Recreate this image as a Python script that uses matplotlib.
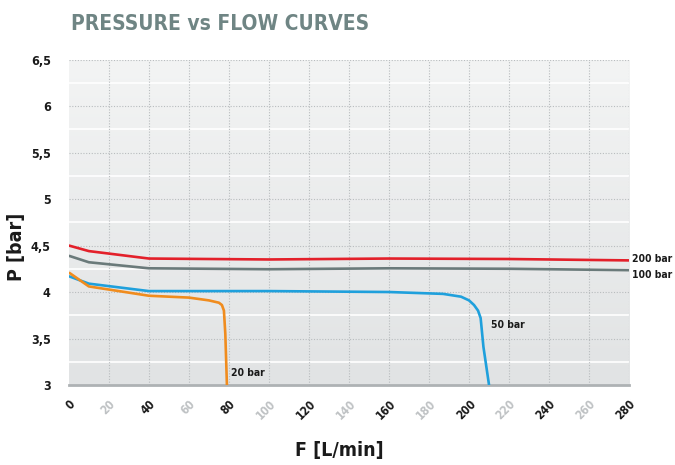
import numpy as np
import matplotlib
matplotlib.use("Agg")
import matplotlib.pyplot as plt
from matplotlib.colors import LinearSegmentedColormap

# Data
x_200 = [0, 10, 40, 100, 160, 220, 280]
p_200 = [4.50, 4.44, 4.36, 4.35, 4.36, 4.355, 4.34]
x_100 = [0, 10, 40, 100, 160, 220, 280]
p_100 = [4.39, 4.32, 4.255, 4.245, 4.255, 4.25, 4.235]
x_50 = [0, 10, 40, 100, 160, 187, 196, 200, 202.5, 204.5, 205.8, 207.2, 210]
p_50 = [4.17, 4.09, 4.01, 4.01, 4.0, 3.98, 3.95, 3.91, 3.86, 3.80, 3.72, 3.41, 3.0]
x_20 = [0, 10, 40, 60, 70, 75, 76.5, 77.5, 78.2, 79]
p_20 = [4.21, 4.06, 3.96, 3.94, 3.91, 3.885, 3.86, 3.80, 3.55, 3.0]
x_ticks = list(range(0, 281, 20))
y_ticks = [3, 3.5, 4, 4.5, 5, 5.5, 6, 6.5]
y_tick_labels = ['3', '3,5', '4', '4,5', '5', '5,5', '6', '6,5']

FONT = dict(family='DejaVu Sans', fontstretch='condensed', fontweight='bold')

fig = plt.figure(figsize=(6.75, 4.65), dpi=100)
ax = fig.add_axes([0.102, 0.172, 0.83, 0.700])
ax.set_xlim(0, 280)
ax.set_ylim(3, 6.5)

# gradient background (darker at bottom)
grad = np.linspace(0, 1, 256).reshape(-1, 1)
cmap = LinearSegmentedColormap.from_list('bg', ['#e1e3e4', '#f3f4f4'])
ax.imshow(grad, extent=[0, 280, 3, 6.5], origin='lower', aspect='auto', cmap=cmap, zorder=0)

for y in np.arange(3.25, 6.5, 0.5):
    ax.axhline(y, color='white', lw=1.2, zorder=1)
for y in y_ticks[1:]:
    ax.axhline(y, color='#b8bcbe', lw=0.8, ls=(0, (1, 1.5)), zorder=1)
for x in x_ticks[1:]:
    ax.axvline(x, color='#b8bcbe', lw=0.8, ls=(0, (1, 1.5)), zorder=1)

for s in ['top', 'right', 'left']:
    ax.spines[s].set_visible(False)
ax.spines['bottom'].set_color('#aeb2b4')
ax.spines['bottom'].set_linewidth(2)

ax.plot(x_200, p_200, color='#e3202a', lw=1.9, zorder=3, solid_capstyle='butt')
ax.plot(x_100, p_100, color='#6a7a7a', lw=1.9, zorder=3, solid_capstyle='butt')
ax.plot(x_50, p_50, color='#1fa0dc', lw=1.9, zorder=3, solid_capstyle='butt')
ax.plot(x_20, p_20, color='#f08c1e', lw=1.9, zorder=3, solid_capstyle='butt')

lab = dict(fontsize=7.5, color='#1a1a1a', **FONT)
ax.text(281.5, p_200[-1] + 0.01, '200 bar', ha='left', va='center', clip_on=False, **lab)
ax.text(281.5, p_100[-1] - 0.05, '100 bar', ha='left', va='center', clip_on=False, **lab)
ax.text(211, 3.64, '50 bar', ha='left', va='center', **lab)
ax.text(81, 3.13, '20 bar', ha='left', va='center', **lab)

ax.set_yticks(y_ticks)
ax.set_yticklabels(y_tick_labels, fontsize=9, color='#1a1a1a', **FONT)
ax.set_xticks(x_ticks)
ax.set_xticklabels([str(v) for v in x_ticks], fontsize=8.5, rotation=45,
                   ha='right', va='top', rotation_mode='anchor', **FONT)
for v, t in zip(x_ticks, ax.get_xticklabels()):
    t.set_color('#1a1a1a' if v % 40 == 0 else '#bfc2c4')
ax.tick_params(axis='both', length=0)
ax.tick_params(axis='y', pad=13)
ax.tick_params(axis='x', pad=9)

fig.text(0.503, 0.032, 'F [L/min]', fontsize=14, color='#1a1a1a', ha='center', va='center', **FONT)
fig.text(0.025, 0.47, 'P [bar]', fontsize=14, color='#1a1a1a', ha='center', va='center',
         rotation=90, **FONT)

fig.text(0.105, 0.948, 'PRESSURE vs FLOW CURVES', fontsize=15,
         color='#6f8584', ha='left', va='center', **FONT)

fig.savefig('out.png', dpi=100)
